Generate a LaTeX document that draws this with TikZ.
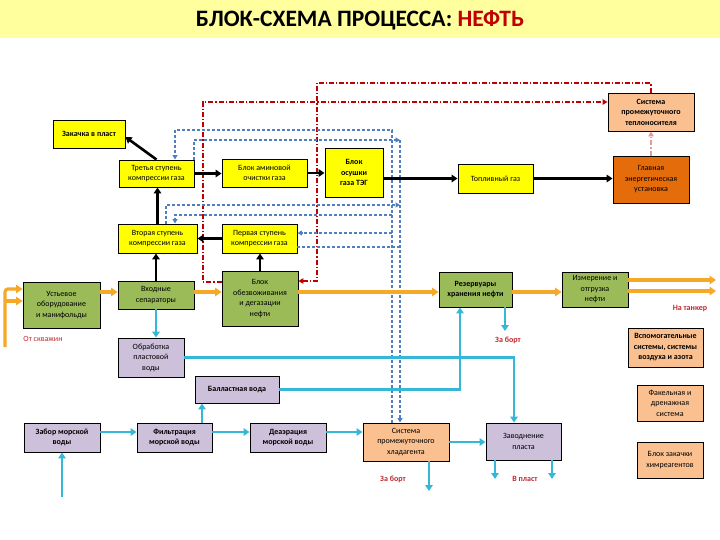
\documentclass[tikz,border=0pt]{standalone}
\usepackage{fontspec}
\setmainfont{Carlito}
\usetikzlibrary{arrows.meta,calc}
\definecolor{titlebg}{HTML}{FFFF9E}
\definecolor{boxyel}{HTML}{FFFF00}
\definecolor{boxgrn}{HTML}{9BBB59}
\definecolor{boxlil}{HTML}{CCC0DA}
\definecolor{boxpch}{HTML}{FAC090}
\definecolor{boxorg}{HTML}{E46C0A}
\definecolor{oilc}{HTML}{F6A828}
\definecolor{watc}{HTML}{35B7D8}
\definecolor{coolc}{HTML}{4F7FC0}
\definecolor{heatc}{HTML}{C00000}
\definecolor{lblred}{HTML}{C0272D}

\begin{document}
\begin{tikzpicture}[x=1pt,y=-1pt]
\tikzstyle{box}=[rectangle, draw=black, line width=0.9pt, align=center, inner sep=1pt, font=\fontsize{8}{10.5}\selectfont]
\tikzstyle{bf}=[font=\fontsize{8}{10.5}\selectfont\bfseries]
\tikzstyle{ybox}=[box, fill=boxyel]
\tikzstyle{gbox}=[box, fill=boxgrn]
\tikzstyle{lbox}=[box, fill=boxlil]
\tikzstyle{pbox}=[box, fill=boxpch]
\tikzstyle{obox}=[box, fill=boxorg]
\tikzstyle{lbl}=[text=lblred, font=\fontsize{8}{10}\selectfont\bfseries]
\tikzstyle{gasline}=[draw=black, line width=2.6pt, -{Triangle[length=6pt,width=7.5pt]}]
\tikzstyle{oilline}=[draw=oilc, line width=3.2pt, -{Triangle[length=6.5pt,width=8.5pt]}]
\tikzstyle{watline}=[draw=watc, line width=2.7pt, -{Triangle[length=6pt,width=7.5pt]}]
\tikzstyle{coolline}=[draw=coolc, line width=1.1pt, dash pattern=on 3pt off 2pt, -{Triangle[length=4.5pt,width=5pt]}]
\tikzstyle{heatline}=[draw=heatc, line width=1.1pt, dash pattern=on 5pt off 2pt on 1.2pt off 2pt, -{Triangle[length=5pt,width=5.5pt]}]

\useasboundingbox (0,0) rectangle (720,540);
\fill[titlebg] (0,0) rectangle (720,38);
\node[font=\fontsize{23.5}{26}\selectfont\bfseries] (title) at (360,20)
  {БЛОК-СХЕМА ПРОЦЕССА: \textcolor{heatc}{НЕФТЬ}};

\node[ybox, bf, minimum width=72pt, minimum height=28pt] (zak) at (89,134) {Закачка в пласт};
\node[ybox, minimum width=75pt, minimum height=27pt] (st3) at (156.5,173.5) {Третья ступень\\компрессии газа};
\node[ybox, minimum width=85pt, minimum height=28pt] (amin) at (264.5,173) {Блок аминовой\\очистки газа};
\node[ybox, bf, minimum width=58pt, minimum height=49pt] (teg) at (354,172.5) {Блок\\осушки\\газа ТЭГ};
\node[ybox, minimum width=75pt, minimum height=29pt] (fuel) at (495.5,178.5) {Топливный газ};
\node[pbox, bf, minimum width=86pt, minimum height=38pt] (tepl) at (651,112) {Система\\промежуточного\\теплоносителя};
\node[obox, minimum width=76pt, minimum height=47pt] (gen) at (651,179.5) {Главная\\энергетическая\\установка};
\node[ybox, minimum width=79pt, minimum height=29pt] (st2) at (157.5,238.5) {Вторая ступень\\компрессии газа};
\node[ybox, minimum width=75pt, minimum height=29pt] (st1) at (259.5,238.5) {Первая ступень\\компрессии газа};
\node[gbox, minimum width=76pt, minimum height=28pt] (sep) at (156,295) {Входные\\сепараторы};
\node[gbox, minimum width=76pt, minimum height=55pt] (obezv) at (260,298.5) {Блок\\обезвоживания\\и дегазации\\нефти};
\node[gbox, minimum width=77pt, minimum height=46pt] (ust) at (61.5,305) {Устьевое\\оборудование\\и манифольды};
\node[lbox, minimum width=66pt, minimum height=39pt] (obr) at (151,357.5) {Обработка\\пластовой\\воды};
\node[gbox, bf, minimum width=73pt, minimum height=35pt] (rez) at (475.5,289.5) {Резервуары\\хранения нефти};
\node[gbox, minimum width=66pt, minimum height=35pt] (otgr) at (595,289.5) {Измерение и\\отгрузка\\нефти};
\node[pbox, bf, minimum width=75pt, minimum height=39pt] (vsp) at (665.5,347.5) {Вспомогательные\\системы, системы\\воздуха и азота};
\node[pbox, minimum width=66pt, minimum height=36pt] (fak) at (670,403) {Факельная и\\дренажная\\система};
\node[pbox, minimum width=66pt, minimum height=36pt] (him) at (670,460) {Блок закачки\\химреагентов};
\node[lbox, bf, minimum width=84pt, minimum height=27pt] (bal) at (237,389.5) {Балластная вода};
\node[lbox, bf, minimum width=76pt, minimum height=29pt] (zab) at (62,437.5) {Забор морской\\воды};
\node[lbox, bf, minimum width=75pt, minimum height=29pt] (fil) at (174.5,437.5) {Фильтрация\\морской воды};
\node[lbox, bf, minimum width=76pt, minimum height=29pt] (dea) at (288,437.5) {Деаэрация\\морской воды};
\node[pbox, minimum width=86pt, minimum height=38pt] (hlad) at (406,442) {Система\\промежуточного\\хладагента};
\node[lbox, minimum width=75pt, minimum height=37pt] (zav) at (523.5,441.5) {Заводнение\\пласта};

\node[lbl] (tanker) at (690,309) {На танкер};
\node[lbl, font=\fontsize{8}{10}\selectfont] (skvlbl) at (43,339) {От скважин};
\node[lbl] (bortlbl1) at (508,340) {За борт};
\node[lbl] (bortlbl2) at (393,479) {За борт};
\node[lbl] (plastlbl) at (525,479) {В пласт};

\coordinate (htop) at (317,83);
\coordinate (hleft) at (203,102);
\draw[heatline] (tepl.north) |- (htop) |- ([yshift=17.5pt]obezv.east);
\draw[heatline] ([yshift=16.5pt]obezv.west) -| (hleft) -- ([yshift=10pt]tepl.west);
\draw[heatline, draw=heatc!40] (gen.north) -- (tepl.south);

\coordinate (csup) at (392,130);
\coordinate (csup2) at (392,215);
\coordinate (csup1) at (392,233);
\coordinate (cret) at (400,140);
\coordinate (cret2) at (400,205);
\coordinate (cret1) at (400,247);
\draw[coolline] ([xshift=-14pt]hlad.north) -- (csup) -| ([xshift=18.5pt]st3.north);
\draw[coolline] (csup2) -| ([xshift=17.5pt]st2.north);
\draw[coolline] (csup1) -- ([yshift=5.5pt]st1.east);
\draw[coolline] ([xshift=37.5pt]st3.north) |- (cret);
\draw[coolline] ([xshift=8.5pt]st2.north) |- (cret2);
\draw[coolline, -] ([yshift=-8.5pt]st1.east) -- (cret1);
\draw[coolline] (cret) -- ([xshift=-6pt]hlad.north);

\draw[gasline] (st3.north) -- ([yshift=-3pt]zak.east);
\draw[gasline] (st3.east) -- (st3.east -| amin.west);
\draw[gasline] (amin.east) -- (amin.east -| teg.west);
\draw[gasline] (teg.east |- fuel.west) -- (fuel.west);
\draw[gasline] (fuel.east) -- (fuel.east -| gen.west);
\draw[gasline] (st2.north) -- (st2.north |- st3.south);
\draw[gasline] (st1.west) -- (st1.west -| st2.east);
\draw[gasline] (obezv.north) -- (obezv.north |- st1.south);
\draw[gasline] (sep.north) -- (sep.north |- st2.south);

\coordinate (skv) at (5,347);
\coordinate (ustin) at ([yshift=16pt]ust.west);
\coordinate (ustin2) at ([yshift=4pt]ust.west);
\coordinate (oil) at (0,292);
\coordinate (tank1) at (716,280);
\coordinate (tank2) at (716,291);
\draw[oilline, rounded corners=3pt] (skv) |- (ustin);
\draw[oilline] (skv |- ustin2) -- (ustin2);
\draw[oilline] (ust.east |- oil) -- (sep.west |- oil);
\draw[oilline] (sep.east |- oil) -- (obezv.west |- oil);
\draw[oilline] (obezv.east |- oil) -- (rez.west |- oil);
\draw[oilline] (rez.east |- oil) -- (otgr.west |- oil);
\draw[oilline] (otgr.east |- tank1) -- (tank1);
\draw[oilline] (otgr.east |- tank2) -- (tank2);

\coordinate (zavin) at ([xshift=-9.5pt]zav.north);
\coordinate (rezin) at ([xshift=-15.5pt]rez.south);
\coordinate (bort1) at (505,331);
\coordinate (sea) at (62,497);
\coordinate (filup) at ([xshift=27.5pt]fil.north);
\coordinate (bort2) at (429,491);
\coordinate (plast1) at (495,479);
\coordinate (plast2) at (552,479);
\draw[watline] (sep.south) -- (sep.south |- obr.north);
\draw[watline] (obr.east) -| (zavin);
\draw[watline] (bal.east) -| (rezin);
\draw[watline] (rez.south -| bort1) -- (bort1);
\draw[watline] (sea) -- (zab.south);
\draw[watline] ([yshift=5.5pt]zab.east) -- ([yshift=5.5pt]fil.west);
\draw[watline] (filup) -- (filup |- bal.south);
\draw[watline] ([yshift=5.5pt]fil.east) -- ([yshift=5.5pt]dea.west);
\draw[watline] ([yshift=5.5pt]dea.east) -- ([yshift=10pt]hlad.west);
\draw[watline] (hlad.east) -- (hlad.east -| zav.west);
\draw[watline] (hlad.south -| bort2) -- (bort2);
\draw[watline] (zav.south -| plast1) -- (plast1);
\draw[watline] (zav.south -| plast2) -- (plast2);
\end{tikzpicture}
\end{document}
